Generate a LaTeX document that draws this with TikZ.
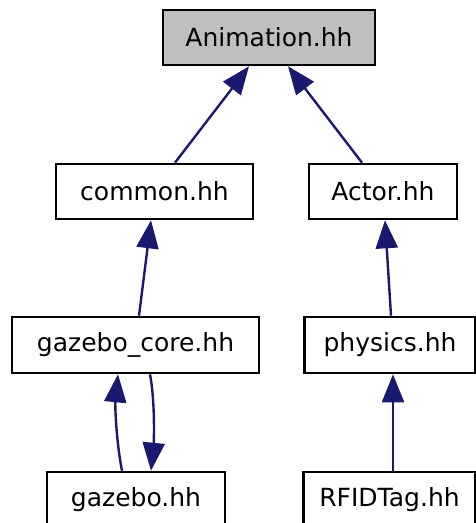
\documentclass[tikz,border=0pt]{standalone}
\usepackage{fontspec}
\setmainfont{DejaVu Sans}
\usetikzlibrary{arrows.meta}
\definecolor{edgecol}{HTML}{191970}
\definecolor{focus}{HTML}{BFBFBF}
\begin{document}
\begin{tikzpicture}[x=1bp,y=-1bp,
  box/.style={draw=black,line width=2.6bp,fill=white,inner sep=0pt,minimum height=55bp,font=\fontsize{25bp}{30bp}\selectfont},
  edge/.style={draw=edgecol,line width=2.4bp,-{Triangle[length=28bp,width=22bp]}}]
\useasboundingbox (0,0) rectangle (476,523);
\node[box,fill=focus,minimum width=212bp] (anim) at (269,37.5) {Animation.hh};
\node[box,minimum width=197bp] (common) at (154.5,191.5) {common.hh};
\node[box,minimum width=148bp] (actor) at (383,191.5) {Actor.hh};
\node[box,minimum width=247bp,minimum height=56bp] (core) at (135.5,345) {gazebo\_core.hh};
\node[box,minimum width=171bp,minimum height=56bp] (physics) at (390,345) {physics.hh};
\node[box,minimum width=178bp,minimum height=56bp] (gazebo) at (136,500) {gazebo.hh};
\node[box,minimum width=172bp,minimum height=56bp] (rfid) at (389.5,500) {RFIDTag.hh};
\draw[edge] ([xshift=20.5bp]common.north) -- ([xshift=-20bp]anim.south);
\draw[edge] ([xshift=-21bp]actor.north) -- ([xshift=19bp]anim.south);
\draw[edge] ([xshift=3.5bp]core.north) -- ([xshift=-3.5bp]common.south);
\draw[edge] ([xshift=1bp]physics.north) -- ([xshift=2bp]actor.south);
\draw[edge] ([xshift=3.5bp]rfid.north) -- ([xshift=3bp]physics.south);
\draw[edge] ([xshift=-14bp]gazebo.north) .. controls (116,440) and (115,405) .. ([xshift=-17.5bp]core.south);
\draw[edge] ([xshift=14.5bp]core.south) .. controls (155,400) and (154,440) .. ([xshift=15bp]gazebo.north);
\end{tikzpicture}
\end{document}
